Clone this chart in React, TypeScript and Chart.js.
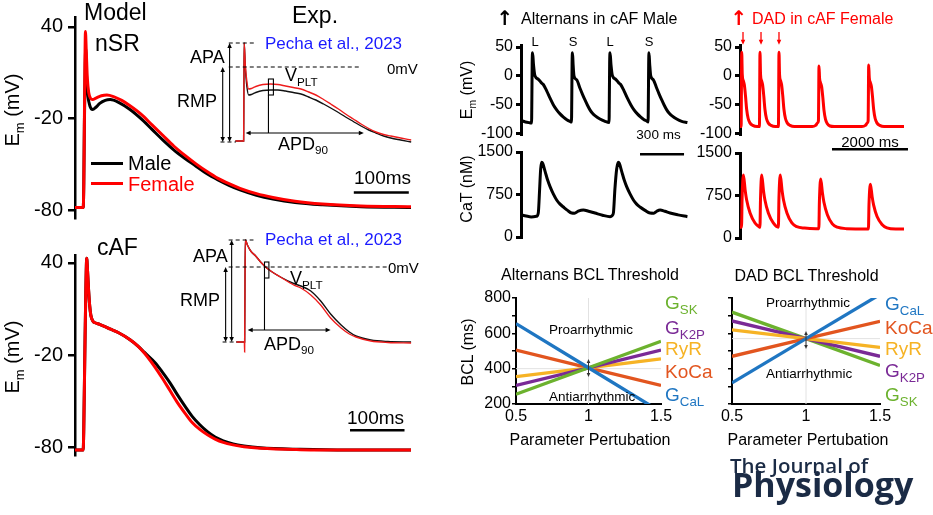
import React, { useEffect, useRef } from "react";
import { Chart, registerables } from "chart.js";
Chart.register(...registerables);

const FONT = "'Liberation Sans', Arial, Helvetica, sans-serif";
Chart.defaults.font.family = FONT;
Chart.defaults.color = "#000";

type P = [number, number];

// ---------------- DATA ----------------
// Panel A – nSR model AP (t in ms, Em in mV)
const apTicks = [-80, -20, 40];
const nsrFemale: P[] = [[0,-78],[15,-78],[16,-62],[17,-25],[18,15],[19,37],[20.5,24],[22.5,6],[25,-3],[28,-6.5],[32,-7.5],[38,-6.5],[48,-5],[58,-4.5],[70,-5.5],[85,-8],[100,-11.5],[120,-17],[140,-24],[160,-31],[180,-38],[200,-44],[220,-49.5],[240,-54.5],[260,-59],[280,-62.5],[300,-65.5],[330,-69],[360,-71.5],[400,-74],[450,-75.8],[520,-77],[611,-77.5]];
const nsrMale: P[] = [[0,-78],[15,-78],[16,-62],[17,-25],[18.5,14],[19.5,26],[21,8],[23.5,-5],[27,-11.5],[32,-14],[38,-12.5],[45,-10],[55,-8],[64,-7.5],[80,-9.5],[100,-14],[120,-20],[140,-27],[160,-34],[180,-40.5],[200,-46],[220,-51],[240,-56],[260,-60],[280,-63.5],[300,-66.5],[330,-70],[360,-72.5],[400,-74.8],[450,-76.3],[520,-77.5],[611,-78]];
// Panel A inset – experimental nSR AP
const expNsrFemale: P[] = [[-15,-74],[0,-74],[0.5,-20],[1,24],[3,2],[6,-15],[9,-22],[14,-21.5],[22,-19.5],[35,-17.5],[49,-17],[62,-17.5],[76,-19],[90,-20.5],[104,-22],[118,-25],[131,-28],[145,-32.5],[158,-37],[172,-42],[185,-47],[199,-52],[213,-57],[227,-61.5],[240,-65],[254,-67.5],[267,-69],[285,-71],[304,-73]];
const expNsrMale: P[] = [[-15,-74],[0,-74],[0.5,-20],[1,24],[3,0],[6,-20],[9,-28],[14,-27.5],[22,-25.5],[35,-23.5],[49,-23],[62,-23],[76,-24],[90,-25.5],[104,-27],[118,-30],[131,-33],[145,-37],[158,-41],[172,-45.5],[185,-50],[199,-54.5],[213,-59],[227,-63],[240,-66],[254,-69],[267,-71],[285,-73],[304,-75]];
// Panel B – cAF model AP
const cafFemale: P[] = [[0,-82],[15,-82],[16,-70],[18,-20],[20,25],[21.5,43],[23,35],[25,22],[27,12],[29,6],[33,2],[37,1],[45,0],[55,-1.5],[64,-3],[80,-5.5],[101,-10],[115,-14],[128,-19],[147,-28],[160,-35],[174,-43],[188,-51],[202,-58],[215,-64],[229,-68.5],[243,-72],[257,-74.8],[272,-77],[290,-78.6],[310,-79.8],[340,-80.8],[413,-81.7],[500,-82],[617,-82]];
const cafMale: P[] = [[0,-82],[15,-82],[16,-70],[18,-20],[20,25],[21.5,43],[23,35],[25,22],[27,12],[29,6],[33,2],[37,1],[45,0],[55,-1.5],[64,-3],[80,-5.5],[101,-10],[115,-14],[128,-18.5],[147,-25],[160,-31],[174,-38],[188,-46],[202,-53.5],[215,-60],[229,-65.5],[243,-70],[257,-73.5],[272,-76],[290,-78],[310,-79.3],[340,-80.5],[413,-81.5],[500,-82],[617,-82]];
// Panel B inset – experimental cAF AP
const expCafFemale: P[] = [[-15,-75],[-0.5,-75],[0,-85],[0.6,-20],[1.2,27],[5,22],[11,16],[20,11],[29,5],[38,0],[50,-5],[65,-10],[89,-18],[102,-21],[120,-28],[138,-38],[156,-51],[175,-61],[190,-67],[202,-70],[229,-74],[260,-75.5],[302,-76]];
const expCafMale: P[] = [[-15,-75],[0,-75],[0.6,-20],[1.2,27],[5,22],[11,16],[20,11],[29,5],[38,0],[50,-5],[65,-10],[89,-16.5],[102,-19],[120,-24],[138,-34],[156,-47],[175,-58],[190,-65],[202,-69],[229,-73],[260,-74.5],[302,-75]];
// Panel C – alternans in cAF male
const emTicks = [-100, -50, 0, 50];
const catTicks = [0, 750, 1500];
const altEm: P[] = [[0,-77.5],[30,-80],[60,-81.5],[72,-82],[74,-40],[76,20],[79,40],[85,20],[95,0],[118,-5.8],[141,-12.7],[152,-15],[175,-26],[198,-38.7],[220,-50],[243,-59],[266,-66],[289,-71.6],[312,-76],[334,-79],[344,-80],[346,-40],[348,20],[351,40],[355,20],[361,0],[380,-7],[402,-21.6],[419,-32],[436,-41.8],[453,-51],[470,-59],[487,-65],[504,-69],[538,-75],[573,-79],[600,-81],[602,-40],[604,20],[607,40],[613,20],[623,0],[645,-5.8],[668,-12.7],[679,-15],[702,-26],[725,-38.7],[748,-50],[770,-59],[793,-66],[816,-71.6],[839,-76],[861,-79],[866,-80],[868,-40],[870,20],[872,40],[877,20],[884,0],[902,-7],[925,-21.6],[942,-32],[959,-41.8],[976,-51],[993,-59],[1010,-65],[1027,-69],[1061,-75],[1095,-79],[1134,-81]];
const altCaT: P[] = [[0,390],[35,370],[70,355],[105,365],[118,430],[127,850],[134,1200],[141,1320],[148,1300],[165,1150],[182,1000],[198,888],[220,760],[243,653],[266,580],[289,529],[317,470],[345,423],[365,420],[390,455],[425,476],[460,455],[504,423],[555,385],[607,359],[622,380],[630,430],[640,850],[652,1200],[663,1320],[670,1300],[687,1150],[704,1000],[720,888],[743,760],[766,653],[788,580],[811,529],[845,470],[879,423],[905,420],[925,455],[948,476],[980,455],[1016,423],[1070,390],[1134,359]];
// Panel D – DAD in cAF female
const dadEm: P[] = [[0,-88],[30,-88],[45,41],[60,2],[85,-8],[115,-16],[145,-35],[175,-58],[215,-74],[265,-82],[335,-86],[450,-88],[511,-88],[526,41],[541,2],[566,-8],[596,-16],[626,-35],[656,-58],[696,-74],[746,-82],[816,-86],[930,-88],[1011,-88],[1026,41],[1041,2],[1066,-8],[1096,-16],[1126,-35],[1156,-58],[1196,-74],[1246,-82],[1316,-86],[1430,-88],[1900,-88],[1990,-86],[2040,-82],[2064,-78],[2079,17],[2094,-4],[2119,-12],[2149,-19],[2179,-37],[2209,-59],[2249,-75],[2299,-83],[2369,-87],[2480,-88],[3210,-88],[3300,-86],[3350,-82],[3372,-78],[3387,19],[3402,-3],[3427,-11],[3457,-18],[3487,-36],[3517,-58],[3557,-74],[3607,-82],[3677,-86],[3790,-88],[4316,-88]];
const dadCaT: P[] = [[0,190],[40,190],[55,700],[90,1110],[135,850],[175,670],[265,440],[395,265],[510,195],[525,190],[540,700],[571,1110],[616,850],[656,670],[746,440],[876,265],[1010,190],[1025,700],[1060,1110],[1105,850],[1145,670],[1235,440],[1365,265],[1495,200],[1700,175],[2000,165],[2075,165],[2090,650],[2124,1040],[2169,800],[2209,630],[2299,410],[2429,250],[2559,190],[2800,165],[3380,160],[3395,600],[3432,950],[3477,730],[3517,580],[3607,380],[3737,240],[3867,180],[4100,160],[4316,160]];
// Panels E/F – BCL thresholds vs parameter perturbation
const pert = [0.5, 1, 1.5];
const bclTicks = [200, 300, 400, 500, 600, 700, 800];
const bclLabels = [200, 400, 600, 800];
const altGCaL = [655, 405, 155];
const altKoCa = [505, 405, 305];
const altRyR = [355, 405, 455];
const altGK2P = [305, 405, 505];
const altGSK = [255, 405, 555];
const dadGCaL = [320, 570, 820];
const dadKoCa = [470, 570, 668];
const dadRyR = [620, 570, 520];
const dadGK2P = [670, 570, 470];
const dadGSK = [720, 570, 418];

// ---------------- STYLE ----------------
const RED = "#ff0000";
const C_CAL = "#1f76c2", C_KOCA = "#e2551f", C_RYR = "#f6b325", C_K2P = "#7a2a96", C_SK = "#6cb22e";

type Ann = { k: "line" | "dash" | "arr2" | "arr1" | "rect"; x1: number; y1: number; x2: number; y2: number; c?: string; w?: number; h?: number };

// inset annotations (data units: ms, mV)
const insetAnnA: Ann[] = [
  { k: "dash", x1: -27, y1: 24, x2: 22, y2: 24 },
  { k: "dash", x1: -27, y1: 0, x2: 213, y2: 0 },
  { k: "dash", x1: -42, y1: -75, x2: -14, y2: -75 },
  { k: "arr2", x1: -25.5, y1: 24, x2: -25.5, y2: -75 },
  { k: "arr2", x1: -38, y1: 0, x2: -38, y2: -75 },
  { k: "rect", x1: 45, y1: -12, x2: 54, y2: -28 },
  { k: "line", x1: 45, y1: -28, x2: 45, y2: -66 },
  { k: "arr2", x1: 3.6, y1: -66, x2: 218, y2: -66 },
];
const insetAnnB: Ann[] = [
  { k: "dash", x1: -29, y1: 27, x2: 16, y2: 27 },
  { k: "dash", x1: -29, y1: 0, x2: 258, y2: 0 },
  { k: "dash", x1: -40, y1: -75, x2: -14, y2: -75 },
  { k: "arr2", x1: -23.6, y1: 27, x2: -23.6, y2: -75 },
  { k: "arr2", x1: -34.5, y1: 0, x2: -34.5, y2: -75 },
  { k: "rect", x1: 36, y1: 5, x2: 44, y2: -11 },
  { k: "line", x1: 36, y1: -11, x2: 36, y2: -63 },
  { k: "arr2", x1: 5.5, y1: -63, x2: 156, y2: -63 },
];

function head(ctx: CanvasRenderingContext2D, x: number, y: number, a: number, s: number) {
  const c = Math.cos(a), sn = Math.sin(a), wd = s * 0.45;
  ctx.beginPath();
  ctx.moveTo(x, y);
  ctx.lineTo(x - s * c + wd * sn, y - s * sn - wd * c);
  ctx.lineTo(x - s * c - wd * sn, y - s * sn + wd * c);
  ctx.closePath();
  ctx.fill();
}
function drawAnn(chart: any, items: Ann[]) {
  const { ctx } = chart;
  const xs = chart.scales.x, ys = chart.scales.y;
  ctx.save();
  for (const it of items) {
    const x1 = xs.getPixelForValue(it.x1), y1 = ys.getPixelForValue(it.y1);
    const x2 = xs.getPixelForValue(it.x2), y2 = ys.getPixelForValue(it.y2);
    const col = it.c || "#000";
    ctx.strokeStyle = col;
    ctx.fillStyle = col;
    ctx.lineWidth = it.w || 1.1;
    ctx.setLineDash(it.k === "dash" ? [4, 3] : []);
    if (it.k === "rect") {
      ctx.strokeRect(Math.min(x1, x2), Math.min(y1, y2), Math.abs(x2 - x1), Math.abs(y2 - y1));
      continue;
    }
    const a = Math.atan2(y2 - y1, x2 - x1);
    const hs = it.h || 5;
    let sx1 = x1, sy1 = y1, sx2 = x2, sy2 = y2;
    if (it.k === "arr1" || it.k === "arr2") { sx2 = x2 - Math.cos(a) * hs * 0.8; sy2 = y2 - Math.sin(a) * hs * 0.8; }
    if (it.k === "arr2") { sx1 = x1 + Math.cos(a) * hs * 0.8; sy1 = y1 + Math.sin(a) * hs * 0.8; }
    ctx.beginPath();
    ctx.moveTo(sx1, sy1);
    ctx.lineTo(sx2, sy2);
    ctx.stroke();
    if (it.k === "arr1" || it.k === "arr2") head(ctx, x2, y2, a, hs);
    if (it.k === "arr2") head(ctx, x1, y1, a + Math.PI, hs);
  }
  ctx.restore();
}
const annPlugin = (over: Ann[], under: Ann[] = []) => ({
  id: "ann",
  beforeDatasetsDraw(chart: any) { drawAnn(chart, under); },
  afterDatasetsDraw(chart: any) { drawAnn(chart, over); },
});

type Box = { left: number; top: number; width: number; height: number };
const PAD = 20;
function boxFor(l: number, t: number, r: number, b: number, yw: number, xh: number): Box {
  return { left: l - yw - PAD, top: t - PAD, width: r - l + yw + 2 * PAD, height: b - t + xh + 2 * PAD };
}

function ChartBox({ box, make }: { box: Box; make: () => any }) {
  const ref = useRef<HTMLCanvasElement | null>(null);
  useEffect(() => {
    const ch = new Chart(ref.current as HTMLCanvasElement, make());
    return () => ch.destroy();
  }, []);
  return (
    <canvas ref={ref} width={box.width} height={box.height}
      style={{ position: "absolute", left: box.left, top: box.top, width: box.width, height: box.height }} />
  );
}

const toXY = (d: P[]) => d.map(([x, y]) => ({ x, y }));
const baseOpts = { responsive: false, animation: false as const, events: [] as any[], plugins: { legend: { display: false }, tooltip: { enabled: false } } };

type TraceOpts = {
  sets: { data: P[]; color: string; w?: number }[];
  xmax: number; ymin: number; ymax: number; ticks: number[];
  font: number; tl: number; pad: number; yw: number; bw: number; ann?: Ann[];
};
function traceConfig(o: TraceOpts) {
  return () => ({
    type: "line",
    data: {
      datasets: o.sets.map((s) => ({
        data: toXY(s.data), borderColor: s.color, borderWidth: s.w ?? 3, pointRadius: 0,
        cubicInterpolationMode: "monotone", fill: false, borderJoinStyle: "round",
      })),
    },
    options: {
      ...baseOpts,
      layout: { padding: PAD },
      scales: {
        x: { type: "linear", min: 0, max: o.xmax, display: false },
        y: {
          type: "linear", min: o.ymin, max: o.ymax,
          afterFit: (s: any) => { s.width = o.yw; },
          afterBuildTicks: (s: any) => { s.ticks = o.ticks.map((v) => ({ value: v })); },
          grid: { drawOnChartArea: false, drawTicks: true, tickLength: o.tl, color: "#000", lineWidth: o.bw },
          border: { display: true, color: "#000", width: o.bw },
          ticks: { font: { size: o.font }, color: "#000", padding: o.pad, autoSkip: false, callback: (v: any) => String(v) },
        },
      },
    },
    plugins: [annPlugin(o.ann || [])],
  });
}

function insetConfig(sets: { data: P[]; color: string }[], ann: Ann[]) {
  return () => ({
    type: "line",
    data: {
      datasets: sets.map((s) => ({
        data: toXY(s.data), borderColor: s.color, borderWidth: 1.4, pointRadius: 0,
        cubicInterpolationMode: "monotone", fill: false, clip: false,
      })),
    },
    options: {
      ...baseOpts,
      layout: { padding: 0 },
      scales: {
        x: { type: "linear", min: -130, max: 320, display: false },
        y: { type: "linear", min: -88, max: 37, display: false },
      },
    },
    plugins: [annPlugin(ann)],
  });
}

function bclConfig(lines: { data: number[]; color: string }[], showLabels: boolean, cross: number, arrow: [number, number]) {
  const faint = "#e2e2e2";
  return () => ({
    type: "line",
    data: {
      datasets: lines.map((l) => ({
        data: pert.map((x, i) => ({ x, y: l.data[i] })), borderColor: l.color, borderWidth: 3.3, pointRadius: 0, tension: 0,
      })),
    },
    options: {
      ...baseOpts,
      layout: { padding: PAD },
      scales: {
        x: {
          type: "linear", min: 0.5, max: 1.5,
          afterFit: (s: any) => { s.height = 30; },
          afterBuildTicks: (s: any) => { s.ticks = pert.map((v) => ({ value: v })); },
          grid: { drawOnChartArea: false, drawTicks: false },
          border: { display: true, color: "#000", width: 2 },
          ticks: { font: { size: 16 }, color: "#000", padding: 3, autoSkip: false, maxRotation: 0, callback: (v: any) => String(v) },
        },
        y: {
          type: "linear", min: 200, max: 800,
          afterFit: (s: any) => { s.width = 40; },
          afterBuildTicks: (s: any) => { s.ticks = bclTicks.map((v) => ({ value: v })); },
          grid: { drawOnChartArea: false, drawTicks: true, tickLength: 4, color: "#000", lineWidth: 1.5 },
          border: { display: true, color: "#000", width: 2 },
          ticks: {
            display: showLabels, font: { size: 16 }, color: "#000", padding: 1, autoSkip: false,
            callback: (v: any) => (bclLabels.includes(v) ? String(v) : ""),
          },
        },
      },
    },
    plugins: [annPlugin(
      [{ k: "arr2", x1: 1, y1: arrow[0], x2: 1, y2: arrow[1], c: "#333", w: 1, h: 4 }],
      [
        { k: "line", x1: 1, y1: 200, x2: 1, y2: 800, c: faint, w: 1 },
        { k: "line", x1: 0.5, y1: cross, x2: 1.5, y2: cross, c: faint, w: 1 },
      ],
    )],
  });
}

// ---------------- TEXT HELPERS ----------------
function Tx({ x, y, s, c = "#000", a = "l", w = 400, f = FONT, rot = false, children }: any) {
  const tx = a === "l" ? "0" : a === "c" ? "-50%" : "-100%";
  return (
    <div style={{
      position: "absolute", left: x, top: y, fontSize: s, color: c, fontWeight: w, fontFamily: f,
      lineHeight: 1, whiteSpace: "nowrap",
      transform: rot ? "translate(-50%,-50%) rotate(-90deg)" : `translate(${tx},-50%)`,
    }}>{children}</div>
  );
}
const Sub = ({ children, k = 0.65 }: any) => (
  <span style={{ fontSize: `${k}em`, position: "relative", top: "0.4em" }}>{children}</span>
);
const Em = () => (<>E<Sub>m</Sub> (mV)</>);

// ---------------- CHART BOXES ----------------
const boxA = boxFor(75, 17, 411, 218, 50, 0);
const boxB = boxFor(75, 255, 411, 455, 50, 0);
const boxInsetA: Box = { left: 171.5, top: 30, width: 248, height: 125 };
const boxInsetB: Box = { left: 172.5, top: 230, width: 248, height: 125 };
const boxCEm = boxFor(521, 45, 688, 134, 45, 0);
const boxCCa = boxFor(521, 152, 688, 237, 45, 0);
const boxDEm = boxFor(740, 45, 904, 134, 45, 0);
const boxDCa = boxFor(740, 153, 904, 238, 45, 0);
const boxE = boxFor(516, 298, 661, 404, 40, 30);
const boxF = boxFor(732, 298, 880, 404, 40, 30);

const mkA = traceConfig({
  sets: [{ data: nsrFemale, color: RED }, { data: nsrMale, color: "#000" }],
  xmax: 611, ymin: -84.9, ymax: 46.5, ticks: apTicks, font: 20, tl: 7, pad: 5, yw: 50, bw: 2.5,
  ann: [{ k: "line", x1: 507, y1: -68.2, x2: 607, y2: -68.2, w: 2.5 }],
});
const mkB = traceConfig({
  sets: [{ data: cafFemale, color: RED }, { data: cafMale, color: "#000" }],
  xmax: 616.5, ymin: -85.2, ymax: 45.2, ticks: apTicks, font: 20, tl: 7, pad: 5, yw: 50, bw: 2.5,
  ann: [{ k: "line", x1: 504.6, y1: -69, x2: 604.6, y2: -69, w: 2.5 }],
});
const mkInsetA = insetConfig([{ data: expNsrFemale, color: "#ee1c1c" }, { data: expNsrMale, color: "#111" }], insetAnnA);
const mkInsetB = insetConfig([{ data: expCafFemale, color: "#ee1c1c" }, { data: expCafMale, color: "#111" }], insetAnnB);
const mkCEm = traceConfig({
  sets: [{ data: altEm, color: "#000" }], xmax: 1138, ymin: -100.9, ymax: 53.5, ticks: emTicks,
  font: 16, tl: 5, pad: 3, yw: 45, bw: 3,
});
const mkCCa = traceConfig({
  sets: [{ data: altCaT, color: "#000" }], xmax: 1138, ymin: 0, ymax: 1500, ticks: catTicks,
  font: 16, tl: 5, pad: 3, yw: 45, bw: 3,
  ann: [{ k: "line", x1: 811, y1: 1460, x2: 1111, y2: 1460, w: 2.5 }],
});
const mkDEm = traceConfig({
  sets: [{ data: dadEm, color: RED }], xmax: 4316, ymin: -100.9, ymax: 53.5, ticks: emTicks,
  font: 16, tl: 5, pad: 3, yw: 45, bw: 3,
  ann: [
    { k: "arr1", x1: 79, y1: 76, x2: 79, y2: 54, c: RED, w: 1.3, h: 5 },
    { k: "arr1", x1: 553, y1: 76, x2: 553, y2: 54, c: RED, w: 1.3, h: 5 },
    { k: "arr1", x1: 1026, y1: 76, x2: 1026, y2: 54, c: RED, w: 1.3, h: 5 },
  ],
});
const mkDCa = traceConfig({
  sets: [{ data: dadCaT, color: RED }], xmax: 4316, ymin: 0, ymax: 1500, ticks: catTicks,
  font: 16, tl: 5, pad: 3, yw: 45, bw: 3,
  ann: [{ k: "line", x1: 2421, y1: 1565, x2: 4421, y2: 1565, w: 2.5 }],
});
const mkE = bclConfig([
  { data: altGCaL, color: C_CAL }, { data: altGSK, color: C_SK }, { data: altGK2P, color: C_K2P },
  { data: altRyR, color: C_RYR }, { data: altKoCa, color: C_KOCA },
], true, 400, [455, 353]);
const mkF = bclConfig([
  { data: dadGCaL, color: C_CAL }, { data: dadKoCa, color: C_KOCA }, { data: dadRyR, color: C_RYR },
  { data: dadGK2P, color: C_K2P }, { data: dadGSK, color: C_SK },
], false, 570, [613, 511]);

export default function App() {
  return (
    <div style={{ position: "absolute", left: 0, top: 0, width: 933, height: 515, overflow: "hidden", background: "#fff", fontFamily: FONT }}>
      <ChartBox box={boxA} make={mkA} />
      <ChartBox box={boxB} make={mkB} />
      <ChartBox box={boxInsetA} make={mkInsetA} />
      <ChartBox box={boxInsetB} make={mkInsetB} />
      <ChartBox box={boxCEm} make={mkCEm} />
      <ChartBox box={boxCCa} make={mkCCa} />
      <ChartBox box={boxDEm} make={mkDEm} />
      <ChartBox box={boxDCa} make={mkDCa} />
      <ChartBox box={boxE} make={mkE} />
      <ChartBox box={boxF} make={mkF} />

      {/* Panel A */}
      <Tx x={12} y={110} s={20} rot><Em /></Tx>
      <Tx x={84} y={11.5} s={23}>Model</Tx>
      <Tx x={95} y={43} s={23}>nSR</Tx>
      <Tx x={292} y={15} s={23}>Exp.</Tx>
      <Tx x={265} y={42.5} s={17} c="#1a1aff">Pecha et al., 2023</Tx>
      <Tx x={387} y={67.5} s={15}>0mV</Tx>
      <Tx x={190} y={57} s={18}>APA</Tx>
      <Tx x={177} y={100.5} s={18}>RMP</Tx>
      <Tx x={285} y={75} s={18}>V<Sub>PLT</Sub></Tx>
      <Tx x={278} y={143.5} s={18}>APD<Sub>90</Sub></Tx>
      <Tx x={354} y={176.5} s={19}>100ms</Tx>
      <div style={{ position: "absolute", left: 91, top: 161.5, width: 32, height: 3, background: "#000" }} />
      <div style={{ position: "absolute", left: 91, top: 181.5, width: 32, height: 3, background: RED }} />
      <Tx x={128} y={163} s={20}>Male</Tx>
      <Tx x={128} y={183.5} s={20} c={RED}>Female</Tx>

      {/* Panel B */}
      <Tx x={12} y={357} s={20} rot><Em /></Tx>
      <Tx x={97} y={247} s={23}>cAF</Tx>
      <Tx x={265} y={238.5} s={17} c="#1a1aff">Pecha et al., 2023</Tx>
      <Tx x={388} y={267} s={15}>0mV</Tx>
      <Tx x={193} y={256} s={18}>APA</Tx>
      <Tx x={180} y={299.5} s={18}>RMP</Tx>
      <Tx x={290} y={278} s={18}>V<Sub>PLT</Sub></Tx>
      <Tx x={264} y={343.5} s={18}>APD<Sub>90</Sub></Tx>
      <Tx x={347} y={416.5} s={19}>100ms</Tx>

      {/* Panel C */}
      <Tx x={505} y={18} s={20} a="c" w={700} f="'DejaVu Sans', sans-serif">↑</Tx>
      <Tx x={521} y={19} s={16}>Alternans in cAF Male</Tx>
      <Tx x={535} y={40.5} s={13} a="c">L</Tx>
      <Tx x={573} y={40.5} s={13} a="c">S</Tx>
      <Tx x={610} y={40.5} s={13} a="c">L</Tx>
      <Tx x={649} y={40.5} s={13} a="c">S</Tx>
      <Tx x={658.5} y={135} s={13.5} a="c">300 ms</Tx>
      <Tx x={467} y={90} s={16} rot><Em /></Tx>
      <Tx x={467} y={189} s={16} rot>CaT (nM)</Tx>

      {/* Panel D */}
      <Tx x={739} y={18} s={20} a="c" w={700} c={RED} f="'DejaVu Sans', sans-serif">↑</Tx>
      <Tx x={752} y={19} s={16} c={RED}>DAD in cAF Female</Tx>
      <Tx x={870} y={141} s={15} a="c">2000 ms</Tx>

      {/* Panel E */}
      <Tx x={590} y={275} s={16} a="c">Alternans BCL Threshold</Tx>
      <Tx x={468} y={352} s={16} rot>BCL (ms)</Tx>
      <Tx x={549} y={330} s={13.5}>Proarrhythmic</Tx>
      <Tx x={549} y={397} s={13.5}>Antiarrhythmic</Tx>
      <Tx x={665} y={301.5} s={19} c={C_SK}>G<Sub k={0.7}>SK</Sub></Tx>
      <Tx x={665} y={326.5} s={19} c={C_K2P}>G<Sub k={0.7}>K2P</Sub></Tx>
      <Tx x={665} y={347.5} s={19} c={C_RYR}>RyR</Tx>
      <Tx x={665} y={370.5} s={19} c={C_KOCA}>KoCa</Tx>
      <Tx x={665} y={393.5} s={19} c={C_CAL}>G<Sub k={0.7}>CaL</Sub></Tx>
      <Tx x={590} y={440} s={16} a="c">Parameter Pertubation</Tx>

      {/* Panel F */}
      <Tx x={806.5} y={276} s={16} a="c">DAD BCL Threshold</Tx>
      <Tx x={766} y={303} s={13.5}>Proarrhythmic</Tx>
      <Tx x={766} y={374} s={13.5}>Antiarrhythmic</Tx>
      <Tx x={885} y={303} s={19} c={C_CAL}>G<Sub k={0.7}>CaL</Sub></Tx>
      <Tx x={885} y={326.5} s={19} c={C_KOCA}>KoCa</Tx>
      <Tx x={885} y={348} s={19} c={C_RYR}>RyR</Tx>
      <Tx x={885} y={370} s={19} c={C_K2P}>G<Sub k={0.7}>K2P</Sub></Tx>
      <Tx x={885} y={393.5} s={19} c={C_SK}>G<Sub k={0.7}>SK</Sub></Tx>
      <Tx x={808} y={440} s={16} a="c">Parameter Pertubation</Tx>

      {/* Journal logo */}
      <Tx x={730} y={465} s={20.5} w={600} c="#1b2b45" f="'Open Sans', sans-serif">The Journal of</Tx>
      <Tx x={732} y={484} s={34} w={700} c="#1b2b45" f="'Open Sans', sans-serif">Physiology</Tx>
    </div>
  );
}
